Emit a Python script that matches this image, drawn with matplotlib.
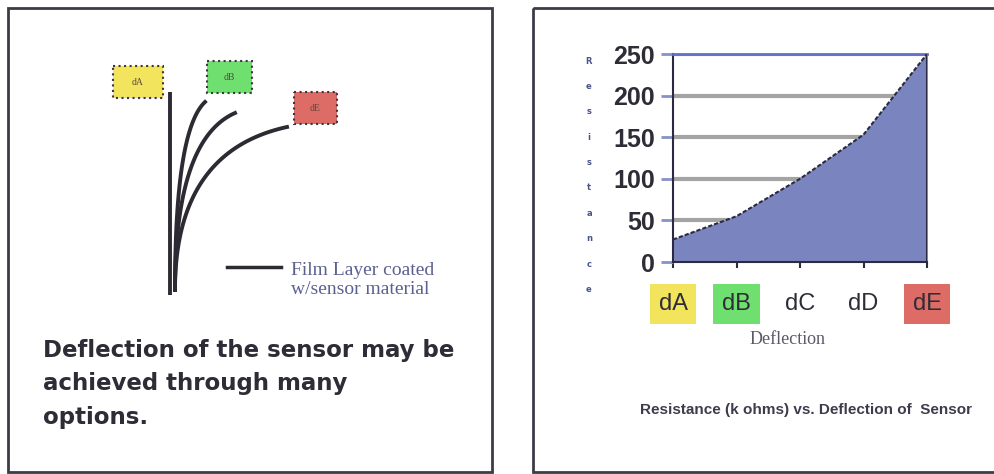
import matplotlib.pyplot as plt
from matplotlib.patches import Rectangle
import numpy as np

#---------------------------     data     ---------------------------#

categories = ['dA', 'dB', 'dC', 'dD', 'dE']
resistance = [27, 55, 100, 153, 250]
box_colors = ['#f2e45c', '#6fe06f', None, None, '#dd6b66']
y_ticks = [0, 50, 100, 150, 200, 250]
ylabel_text = 'Resistance'

# left sketch: flag labels and end points of the bent film layers (pixel coords)
flag_labels = ['dA', 'dB', 'dE']
flag_colors = ['#f2e45c', '#6fe06f', '#dd6b66']
flag_boxes = [(113, 66, 50, 32), (207, 61, 45, 32), (294, 92, 43, 32)]
curve_ends = [(205, 102), (235, 113), (287, 127)]
base_point = (175, 290)

#---------------------------     figure     ---------------------------#

fig = plt.figure(figsize=(9.94, 4.74), dpi=100)
bg = fig.add_axes([0, 0, 1, 1])
bg.set_xlim(0, 994)
bg.set_ylim(474, 0)
bg.axis('off')

# panel borders
bg.add_patch(Rectangle((8, 8), 484, 464, fill=False, ec='#3c3c48', lw=2))
bg.add_patch(Rectangle((533, 8), 470, 464, fill=False, ec='#3c3c48', lw=2))

# upright sensor
bg.plot([170, 170], [92, 295], color='#2e2a33', lw=2.8, solid_capstyle='butt')
# bent sensors (quadratic bezier from base to end)
for ex, ey in curve_ends:
    t = np.linspace(0, 1, 60)
    cx, cy = base_point[0], ey + (base_point[1] - ey) * 0.15
    xs = (1 - t)**2 * base_point[0] + 2 * (1 - t) * t * cx + t**2 * ex
    ys = (1 - t)**2 * base_point[1] + 2 * (1 - t) * t * cy + t**2 * ey
    bg.plot(xs, ys, color='#2e2a33', lw=2.8)

for lab, col, (bx, by, bw, bh) in zip(flag_labels, flag_colors, flag_boxes):
    bg.add_patch(Rectangle((bx, by), bw, bh, fc=col, ec='#3c3440', lw=1.5, ls=':'))
    bg.text(bx + bw / 2, by + bh / 2, lab, fontsize=7, color='#5a4a40',
            ha='center', va='center', family='Liberation Serif')

# legend for film layer
bg.plot([227, 281], [267, 267], color='#2e2a33', lw=2.5)
bg.text(291, 280, 'Film Layer coated\nw/sensor material', fontsize=14,
        family='Liberation Serif', color='#5b6090', va='center', ha='left',
        linespacing=1.1)

bg.text(43, 339, 'Deflection of the sensor may be\nachieved through many\noptions.',
        fontsize=16.5, fontweight='bold', family='DejaVu Sans',
        color='#2e2c36', va='top', ha='left', linespacing=1.57)

#---------------------------     area chart     ---------------------------#

ax = fig.add_axes([673 / 994, (474 - 262) / 474, (927 - 673) / 994, (262 - 54) / 474])
x = np.arange(len(categories))
ax.fill_between(x, resistance, color='#7a84bf', zorder=2)
ax.plot(x, resistance, color='#2a2a40', lw=1.5, ls=(0, (2, 1)), zorder=3)
ax.plot([x[-1], x[-1]], [0, resistance[-1]], color='#2a2a40', lw=1.5, zorder=3)
ax.set_xlim(0, len(categories) - 1)
ax.set_ylim(0, 250)
ax.set_yticks(y_ticks)
ax.set_yticklabels([str(v) for v in y_ticks], fontsize=18, fontweight='bold',
                   family='Liberation Sans', color='#2e2c36')
ax.set_xticks(x)
ax.set_xticklabels([])
ax.tick_params(axis='y', length=9, width=2, color='#8890c8', pad=4)
ax.tick_params(axis='x', length=4, width=1.5, color='#2a2a40')
ax.grid(axis='y', color='#a4a4a4', lw=3, zorder=1)
for s in ['left', 'bottom']:
    ax.spines[s].set_color('#2a2a40')
    ax.spines[s].set_linewidth(1.5)
    ax.spines[s].set_linestyle((0, (2, 1)))
ax.spines['top'].set_color('#6070c8')
ax.spines['top'].set_linewidth(2)
ax.spines['right'].set_visible(False)

# category labels in coloured boxes
for xi, lab, col in zip(x, categories, box_colors):
    bbox = dict(boxstyle='square,pad=0.38', fc=col, ec='none') if col else None
    ax.annotate(lab, xy=(xi, 0), xycoords=('data', 'axes fraction'),
                xytext=(0, -30), textcoords='offset points', ha='center', va='center',
                fontsize=17, family='Liberation Sans', color='#2e2c36', bbox=bbox)

# stacked y label letters
for i, ch in enumerate(ylabel_text):
    bg.text(589, 61 + i * 25.4, ch, fontsize=6, fontweight='bold',
            color='#4a5488', ha='center', va='center')

bg.text(788, 340, 'Deflection', fontsize=13, family='Liberation Serif',
        color='#5a5a68', ha='center', va='center')
bg.text(806, 410, 'Resistance (k ohms) vs. Deflection of  Sensor', fontsize=11,
        fontweight='bold', family='Liberation Sans', color='#3c3c4c',
        ha='center', va='center')

fig.savefig('out.png', dpi=100)
